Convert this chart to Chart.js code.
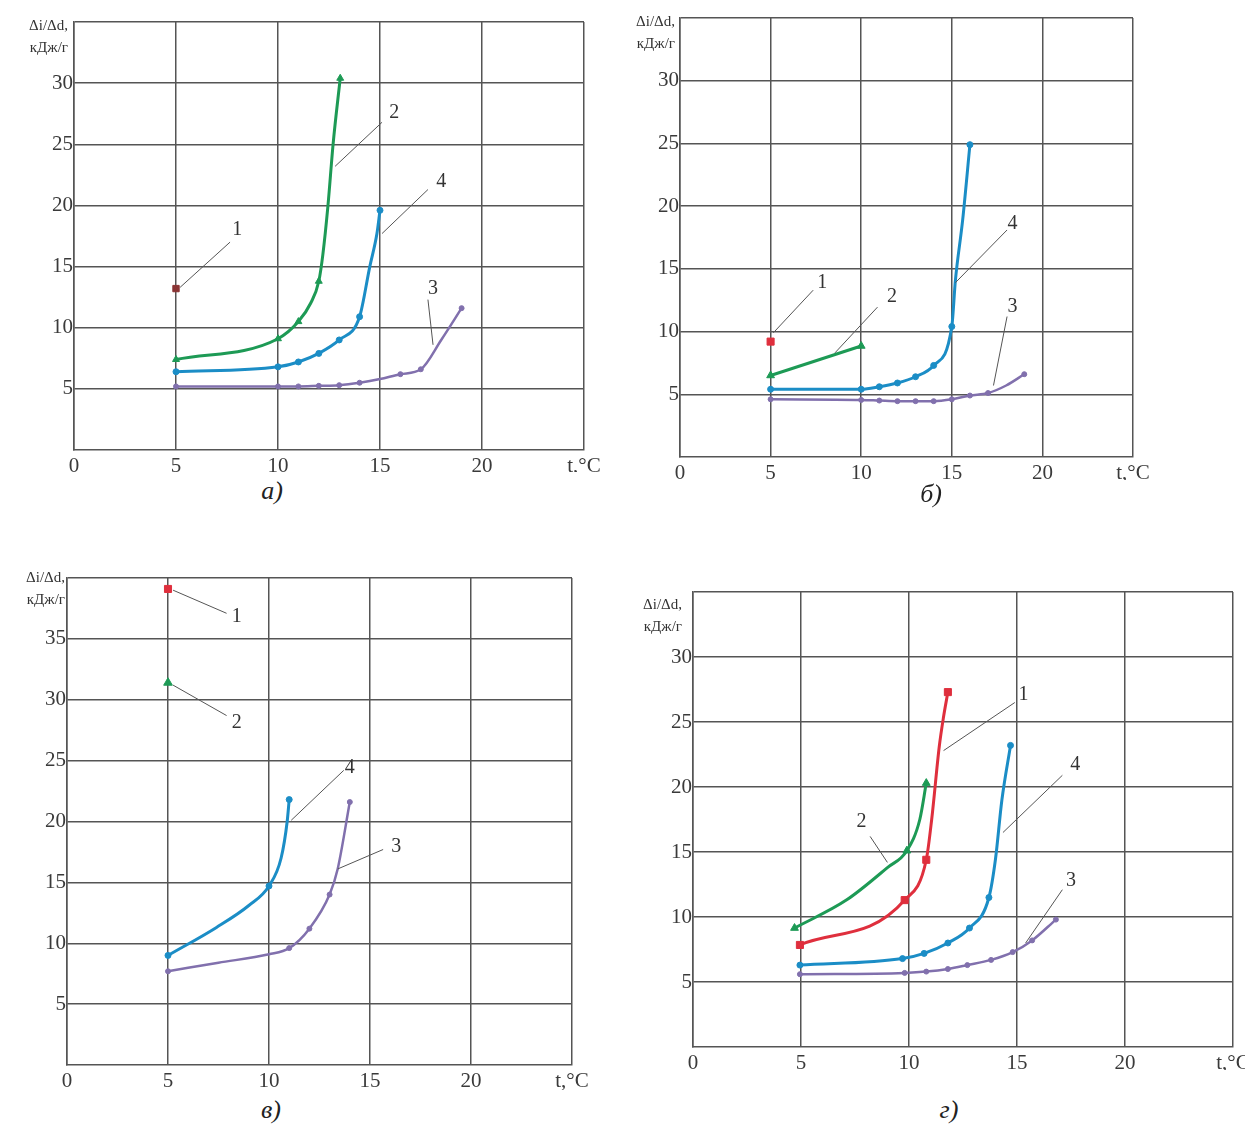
<!DOCTYPE html>
<html>
<head>
<meta charset="utf-8">
<script src="https://cdn.jsdelivr.net/npm/chart.js@4"></script>
<style>
  body { margin: 0; background: #fff; overflow: hidden; }
  .wrap { position: relative; width: 1245px; height: 1133px; }
  canvas { position: absolute; }
  .cap { position: absolute; font: italic 26px "Liberation Serif", serif; color: #222; transform: translate(-50%, -50%); }
</style>
</head>
<body>
<div class="wrap">
  <canvas id="pa" width="620" height="472" style="left:0;top:0"></canvas>
  <canvas id="pb" width="625" height="480" style="left:620px;top:0"></canvas>
  <canvas id="pc" width="620" height="530" style="left:0;top:560px"></canvas>
  <canvas id="pd" width="640" height="500" style="left:620px;top:570px"></canvas>
  <div class="cap" style="left:272px;top:491px">а)</div>
  <div class="cap" style="left:931px;top:494px">б)</div>
  <div class="cap" style="left:271px;top:1110px">в)</div>
  <div class="cap" style="left:949px;top:1110px">г)</div>
</div>
<script>
// shared axes
const xTicks = [0, 5, 10, 15, 20, 25];
const xLabels = ['0', '5', '10', '15', '20', 't,°C'];
const yTicks35 = [5, 10, 15, 20, 25, 30, 35];
const yLabels35 = ['5', '10', '15', '20', '25', '30', ''];
const yTicks40 = [5, 10, 15, 20, 25, 30, 35, 40];
const yLabels40 = ['5', '10', '15', '20', '25', '30', '35', ''];

// а)
const a1X = [5], a1Y = [13.2];
const a2X = [5, 10, 11, 11.6, 12, 12.2, 12.45, 12.7, 13.05];
const a2Y = [7.4, 9.1, 10.5, 12.0, 13.8, 16.0, 20.0, 25.0, 30.4];
const a2M = [1, 1, 1, 0, 1, 0, 0, 0, 1];
const a3X = [5, 10, 11, 12, 13, 14, 15, 16, 17, 18, 19];
const a3Y = [5.2, 5.2, 5.2, 5.25, 5.3, 5.5, 5.8, 6.2, 6.6, 9.0, 11.6];
const a3M = [1, 1, 1, 1, 1, 1, 0, 1, 1, 0, 1];
const a4X = [5, 10, 11, 12, 13, 14, 14.5, 14.85, 15];
const a4Y = [6.4, 6.8, 7.2, 7.9, 9.0, 10.9, 15.0, 17.7, 19.6];
const a4M = [1, 1, 1, 1, 1, 1, 0, 0, 1];

// б)
const b1X = [5], b1Y = [9.2];
const b2X = [5, 10], b2Y = [6.5, 8.85];
const b3X = [5, 10, 11, 12, 13, 14, 15, 16, 17, 18, 19];
const b3Y = [4.6, 4.55, 4.5, 4.45, 4.45, 4.45, 4.6, 4.9, 5.1, 5.7, 6.6];
const b3M = [1, 1, 1, 1, 1, 1, 1, 1, 1, 0, 1];
const b4X = [5, 10, 11, 12, 13, 14, 15, 15.2, 15.6, 16];
const b4Y = [5.4, 5.4, 5.6, 5.9, 6.4, 7.3, 10.4, 14.1, 18.9, 24.9];
const b4M = [1, 1, 1, 1, 1, 1, 1, 0, 0, 1];

// в)
const c1X = [5], c1Y = [39.1];
const c2X = [5], c2Y = [31.4];
const c3X = [5, 7.5, 10, 11, 12, 13, 13.4, 14];
const c3Y = [7.7, 8.4, 9.1, 9.6, 11.2, 14.0, 16.1, 21.6];
const c3M = [1, 0, 0, 1, 1, 1, 0, 1];
const c4X = [5, 7.4, 9, 10, 10.6, 10.9, 11];
const c4Y = [9.0, 11.3, 13.1, 14.7, 17.0, 20.0, 21.8];
const c4M = [1, 0, 0, 1, 0, 0, 1];

// г)
const d1X = [4.95, 9.8, 10.8, 11.05, 11.4, 11.6, 11.8];
const d1Y = [7.85, 11.3, 14.4, 17.5, 23.1, 25.4, 27.3];
const d1M = [1, 1, 1, 0, 0, 0, 1];
const d2X = [4.7, 7.1, 9.0, 9.9, 10.5, 10.8];
const d2Y = [9.15, 11.3, 13.8, 15.1, 17.5, 20.3];
const d2M = [1, 0, 0, 1, 0, 1];
const d3X = [4.95, 9.8, 10.8, 11.8, 12.7, 13.8, 14.8, 15.7, 16.8];
const d3Y = [5.6, 5.7, 5.8, 6.0, 6.3, 6.7, 7.3, 8.2, 9.8];
const d4X = [4.95, 9.7, 10.7, 11.8, 12.8, 13.7, 14.0, 14.3, 14.7];
const d4Y = [6.3, 6.8, 7.2, 8.0, 9.15, 11.5, 14.4, 19.0, 23.2];
const d4M = [1, 1, 1, 1, 1, 1, 0, 0, 1];

// curve numbers: label, label x, label y, leader from x, y, leader to x, y
const aNotes = [['1', 8.0, 18.0, 5.2, 13.3, 7.65, 17.0], ['2', 15.7, 27.6, 12.8, 23.2, 15.1, 26.8],
  ['4', 18.0, 21.9, 15.1, 17.7, 17.35, 21.3], ['3', 17.6, 13.2, 17.6, 8.6, 17.35, 12.3]];
const bNotes = [['1', 7.85, 13.9, 5.15, 9.9, 7.35, 13.3], ['2', 11.7, 12.75, 8.55, 8.3, 10.9, 11.95],
  ['4', 18.35, 18.6, 15.2, 13.9, 18.05, 18.1], ['3', 18.35, 12.0, 17.3, 5.7, 18.05, 11.2]];
const cNotes = [['1', 8.4, 36.8, 5.25, 39.0, 7.9, 37.1], ['2', 8.4, 28.1, 5.25, 31.2, 7.9, 28.7],
  ['4', 14.0, 24.45, 11.1, 20.1, 13.7, 24.2], ['3', 16.3, 17.9, 13.4, 16.1, 15.65, 17.7]];
const dNotes = [['2', 7.8, 17.3, 9.0, 14.2, 8.2, 16.2], ['1', 15.3, 27.1, 11.6, 22.8, 14.9, 26.5],
  ['4', 17.7, 21.7, 14.35, 16.5, 17.1, 20.9], ['3', 17.5, 12.8, 15.4, 8.0, 17.1, 12.1]];

const GREEN = '#1d9a55', BLUE = '#1b8dc6', PURPLE = '#8170ad', RED = '#df2f3d', BROWN = '#8a3434';
const GRID = '#555';
const SERIF = '"Liberation Serif", "Times New Roman", serif';

function series(xs, ys, marks, color, shape, r, w) {
  return {
    data: xs.map((v, i) => ({ x: v, y: ys[i] })),
    borderColor: color,
    backgroundColor: color,
    borderWidth: w,
    pointStyle: shape,
    pointRadius: xs.map((v, i) => (marks && !marks[i] ? 0 : r)),
    pointBorderWidth: 1,
    cubicInterpolationMode: 'monotone',
    clip: false,
  };
}

function panel(id, p) {
  const notesPlugin = {
    id: 'notes' + id,
    afterDatasetsDraw(chart) {
      const { ctx, chartArea, scales } = chart;
      ctx.save();
      ctx.fillStyle = '#333';
      ctx.font = '15px ' + SERIF;
      ctx.textAlign = 'right';
      ctx.textBaseline = 'middle';
      ctx.fillText('Δi/Δd,', chartArea.left - p.tdx, chartArea.top + p.t1);
      ctx.fillText('кДж/г', chartArea.left - p.tdx, chartArea.top + p.t1 + 22);
      ctx.strokeStyle = '#555';
      ctx.lineWidth = 1;
      ctx.font = '20px ' + SERIF;
      ctx.textAlign = 'center';
      p.notes.forEach(n => {
        const px = v => scales.x.getPixelForValue(v);
        const py = v => scales.y.getPixelForValue(v);
        ctx.beginPath();
        ctx.moveTo(px(n[3]), py(n[4]));
        ctx.lineTo(px(n[5]), py(n[6]));
        ctx.stroke();
        ctx.fillText(n[0], px(n[1]), py(n[2]));
      });
      ctx.restore();
    }
  };
  return new Chart(document.getElementById(id), {
    type: 'line',
    data: { datasets: p.sets },
    options: {
      responsive: false,
      animation: false,
      devicePixelRatio: 1,
      layout: { padding: { top: p.top, right: p.right, left: 0, bottom: 0 } },
      plugins: { legend: { display: false }, tooltip: { enabled: false } },
      scales: {
        x: {
          type: 'linear', min: 0, max: 25,
          afterBuildTicks: ax => { ax.ticks = xTicks.map(v => ({ value: v })); },
          afterFit: s => { s.height = p.xH; },
          grid: { color: GRID, lineWidth: 1.5, drawTicks: false },
          border: { color: GRID, width: 1.5 },
          ticks: {
            padding: 4, maxRotation: 0, autoSkip: false, color: '#3a3a3a',
            font: { family: SERIF, size: 21 },
            callback: (v, i) => xLabels[i],
          },
        },
        y: {
          type: 'linear', min: 0, max: p.yMax,
          afterBuildTicks: ax => { ax.ticks = p.yTicks.map(v => ({ value: v })); },
          afterFit: s => { s.width = p.yW; },
          grid: { color: GRID, lineWidth: 1.5, drawTicks: false },
          border: { color: GRID, width: 1.5 },
          ticks: {
            padding: 1, autoSkip: false, color: '#3a3a3a',
            font: { family: SERIF, size: 21 },
            callback: (v, i) => p.yLabels[i],
          },
        },
      },
    },
    plugins: [notesPlugin],
  });
}

panel('pa', {
  top: 22, right: 36, yW: 74, xH: 22, yMax: 35, yTicks: yTicks35, yLabels: yLabels35,
  tdx: 6, t1: 4, notes: aNotes,
  sets: [
    series(a3X, a3Y, a3M, PURPLE, 'circle', 2.5, 2.5),
    series(a4X, a4Y, a4M, BLUE, 'circle', 3, 3),
    series(a2X, a2Y, a2M, GREEN, 'triangle', 4, 3),
    series(a1X, a1Y, null, BROWN, 'rect', 4.5, 3),
  ],
});

panel('pb', {
  top: 18, right: 112, yW: 60, xH: 23, yMax: 35, yTicks: yTicks35, yLabels: yLabels35,
  tdx: 5, t1: 4, notes: bNotes,
  sets: [
    series(b3X, b3Y, b3M, PURPLE, 'circle', 2.5, 2.5),
    series(b4X, b4Y, b4M, BLUE, 'circle', 3, 3),
    series(b2X, b2Y, null, GREEN, 'triangle', 4.5, 3),
    series(b1X, b1Y, null, RED, 'rect', 5, 3),
  ],
});

panel('pc', {
  top: 18, right: 48, yW: 67, xH: 25, yMax: 40, yTicks: yTicks40, yLabels: yLabels40,
  tdx: 2, t1: 0, notes: cNotes,
  sets: [
    series(c3X, c3Y, c3M, PURPLE, 'circle', 2.5, 2.5),
    series(c4X, c4Y, c4M, BLUE, 'circle', 3, 3),
    series(c2X, c2Y, null, GREEN, 'triangle', 5, 3),
    series(c1X, c1Y, null, RED, 'rect', 5, 3),
  ],
});

panel('pd', {
  top: 22, right: 27, yW: 73, xH: 23, yMax: 35, yTicks: yTicks35, yLabels: yLabels35,
  tdx: 11, t1: 13, notes: dNotes,
  sets: [
    series(d3X, d3Y, null, PURPLE, 'circle', 2.5, 2.5),
    series(d4X, d4Y, d4M, BLUE, 'circle', 3, 3),
    series(d2X, d2Y, d2M, GREEN, 'triangle', 4.5, 3),
    series(d1X, d1Y, d1M, RED, 'rect', 5, 3),
  ],
});
</script>
</body>
</html>
